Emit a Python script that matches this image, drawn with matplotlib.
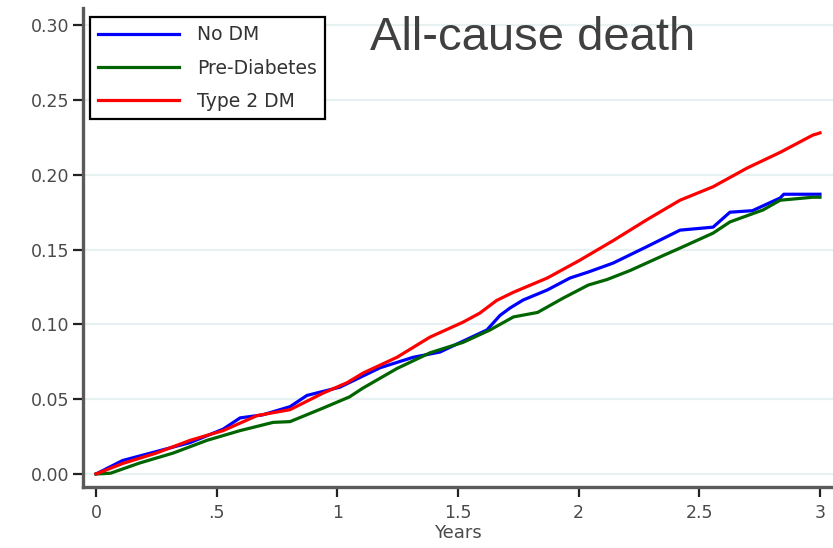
import matplotlib
matplotlib.use('Agg')
import matplotlib.pyplot as plt

# Cumulative incidence of all-cause death by diabetes status
years_no_dm = [0, 0.11, 0.25, 0.39, 0.527, 0.597, 0.69, 0.804, 0.874, 1.01, 1.177, 1.314,
               1.425, 1.55, 1.62, 1.674, 1.716, 1.77, 1.87, 1.964, 2.04, 2.143, 2.283,
               2.42, 2.557, 2.627, 2.72, 2.835, 2.85, 3.0]
risk_no_dm = [0, 0.009, 0.015, 0.021, 0.03, 0.0375, 0.0395, 0.045, 0.0525, 0.058, 0.071, 0.078,
              0.0815, 0.091, 0.0963, 0.106, 0.111, 0.1163, 0.123, 0.131, 0.135, 0.141, 0.152,
              0.163, 0.165, 0.175, 0.176, 0.1845, 0.187, 0.187]

years_pre = [0, 0.06, 0.18, 0.32, 0.46, 0.597, 0.734, 0.804, 0.94, 1.05, 1.107, 1.247, 1.384,
             1.521, 1.633, 1.73, 1.83, 1.935, 2.04, 2.118, 2.213, 2.35, 2.42, 2.557, 2.627,
             2.764, 2.835, 2.97, 3.0]
risk_pre = [0, 0.0005, 0.0073, 0.014, 0.0225, 0.029, 0.0345, 0.035, 0.044, 0.0515, 0.0575,
            0.0705, 0.081, 0.088, 0.0963, 0.105, 0.108, 0.1175, 0.1263, 0.130, 0.136, 0.146,
            0.151, 0.161, 0.1685, 0.1765, 0.183, 0.185, 0.185]

years_t2dm = [0, 0.11, 0.25, 0.39, 0.527, 0.667, 0.804, 0.94, 1.04, 1.107, 1.247, 1.384,
              1.521, 1.59, 1.66, 1.73, 1.87, 2.006, 2.143, 2.283, 2.42, 2.557, 2.698, 2.835,
              2.97, 3.0]
risk_t2dm = [0, 0.007, 0.014, 0.0225, 0.029, 0.039, 0.043, 0.054, 0.061, 0.0675, 0.078, 0.0915,
             0.1015, 0.1075, 0.116, 0.1215, 0.131, 0.143, 0.156, 0.170, 0.183, 0.192, 0.2045,
             0.215, 0.2265, 0.228]

xticks = [0, 0.5, 1, 1.5, 2, 2.5, 3]
xtick_labels = ['0', '.5', '1', '1.5', '2', '2.5', '3']
yticks = [0.00, 0.05, 0.10, 0.15, 0.20, 0.25, 0.30]

plt.rcParams['font.family'] = ['DejaVu Sans']
text_gray = '#4a4a4a'
spine_gray = '#5a5a5a'

fig = plt.figure(figsize=(8.33, 5.48), dpi=100)
ax = fig.add_axes([83 / 833, 61 / 548, 1 - 83 / 833, (548 - 8 - 61) / 548])

ax.plot(years_no_dm, risk_no_dm, color='#0000ff', lw=2.3, label='No DM')
ax.plot(years_pre, risk_pre, color='#006400', lw=2.3, label='Pre-Diabetes')
ax.plot(years_t2dm, risk_t2dm, color='#ff0000', lw=2.3, label='Type 2 DM')

ax.set_xlim(-0.054, 3.054)
ax.set_ylim(-0.0087, 0.3115)
ax.set_xticks(xticks)
ax.set_xticklabels(xtick_labels)
ax.set_yticks(yticks)
ax.set_yticklabels([f'{v:.2f}' for v in yticks])

ax.yaxis.grid(True, color='#e8f1f1', lw=1.6)
ax.set_axisbelow(True)

for side in ['top', 'right']:
    ax.spines[side].set_visible(False)
for side in ['left', 'bottom']:
    ax.spines[side].set_color(spine_gray)
    ax.spines[side].set_linewidth(2.4)

ax.tick_params(axis='y', length=7, width=1.6, color='#222222', pad=3,
               labelsize=12.5, labelcolor=text_gray)
ax.tick_params(axis='x', length=7, width=1.6, color='#222222', pad=5,
               labelsize=12.5, labelcolor=text_gray)
ax.set_xlabel('Years', fontsize=13, color=text_gray, labelpad=2)

leg = ax.legend(loc='upper left', bbox_to_anchor=(90 / 833, 1 - 17 / 548),
                bbox_transform=fig.transFigure, borderaxespad=0, fontsize=13.5,
                handlelength=4.3, handletextpad=0.95, borderpad=0.45,
                labelspacing=0.75, fancybox=False, framealpha=1)
leg.get_frame().set_edgecolor('black')
leg.get_frame().set_linewidth(1.6)
for t in leg.get_texts():
    t.set_color('#333333')

fig.text(533 / 833, 1 - 38 / 548, 'All-cause death', family='Liberation Sans',
         fontsize=34, color='#404040', ha='center', va='center')

fig.savefig('out.png', dpi=100)
